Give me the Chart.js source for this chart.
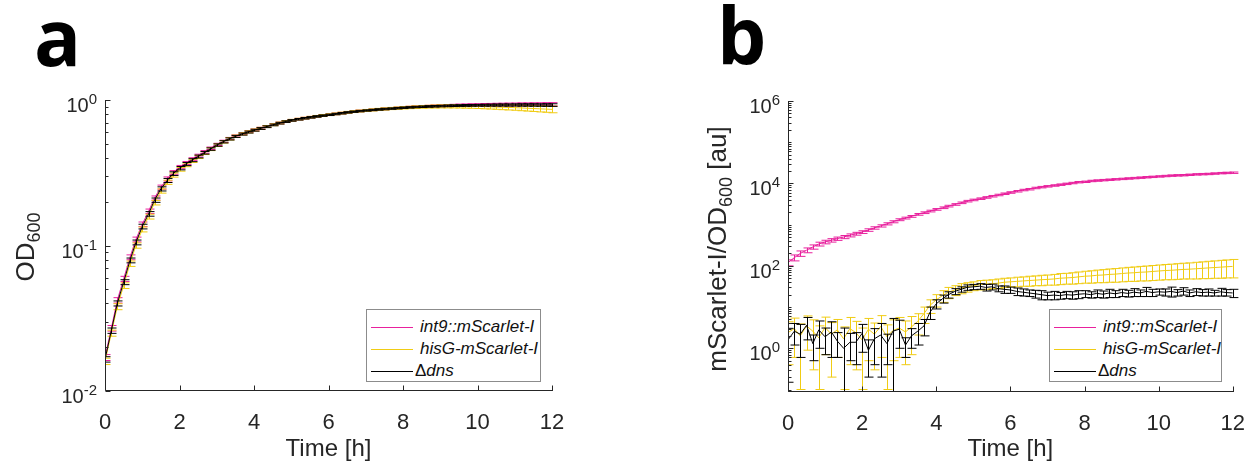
<!DOCTYPE html>
<html>
<head>
<meta charset="utf-8">
<script src="https://cdn.jsdelivr.net/npm/chart.js@4.4.1/dist/chart.umd.min.js"></script>
<style>
  html, body { margin: 0; padding: 0; background: #fff; }
  #fig { position: relative; width: 1256px; height: 463px; overflow: hidden; }
  .panel { position: absolute; top: 0; width: 628px; height: 463px; }
  .letter { position: absolute; font: bold 78px "Open Sans", sans-serif; line-height: 78px; color: #000; }
  .legend { position: absolute; top: 309px; height: 73px; background: #fff; border: 1px solid #8c8c8c; box-sizing: border-box; }
  .row { position: absolute; left: 0; right: 0; height: 20px; line-height: 20px;
         font: italic 17px "Liberation Sans", Arial, sans-serif; color: #111; }
  .row .ln { position: absolute; left: 4px; top: 10px; width: 42px; height: 0; border-top-width: 1px; border-top-style: solid; }
  .row .tx { position: absolute; left: 53px; white-space: nowrap; }
  .row .tx.d { left: 48px; }
  .up { font-style: normal; }
</style>
</head>
<body>
<div id="fig">
  <div class="panel" style="left:0"><canvas id="chartA"></canvas></div>
  <div class="panel" style="left:628px"><canvas id="chartB"></canvas></div>
  <div class="letter" style="left:34px; top:-3px">a</div>
  <div class="letter" style="left:717px; top:-5px">b</div>
  <div class="legend" style="left:366px; width:175px" id="legA"></div>
  <div class="legend" style="left:1049px; width:173px" id="legB"></div>
</div>
<script>
const FONT = '"Liberation Sans", Arial, Helvetica, sans-serif';
const INK = '#262626';

// sampling times [h], every 10 min
const time = [0, 0.17, 0.33, 0.5, 0.67, 0.83, 1, 1.17, 1.33, 1.5, 1.67, 1.83,
  2, 2.17, 2.33, 2.5, 2.67, 2.83, 3, 3.17, 3.33, 3.5, 3.67, 3.83,
  4, 4.17, 4.33, 4.5, 4.67, 4.83, 5, 5.17, 5.33, 5.5, 5.67, 5.83,
  6, 6.17, 6.33, 6.5, 6.67, 6.83, 7, 7.17, 7.33, 7.5, 7.67, 7.83,
  8, 8.17, 8.33, 8.5, 8.67, 8.83, 9, 9.17, 9.33, 9.5, 9.67, 9.83,
  10, 10.17, 10.33, 10.5, 10.67, 10.83, 11, 11.17, 11.33, 11.5, 11.67, 11.83, 12];

const seriesNames = ['int9::mScarlet-I', 'hisG-mScarlet-I', 'dns'];
const seriesColors = ['#e8219d', '#f0cc14', '#000000'];

// panel a: OD600
const odInt9 = [0.0170, 0.027, 0.042, 0.059, 0.083, 0.110, 0.140, 0.172, 0.212, 0.252, 0.287, 0.318,
  0.346, 0.369, 0.392, 0.415, 0.440, 0.466, 0.495, 0.520, 0.544, 0.566, 0.587, 0.606,
  0.623, 0.640, 0.658, 0.677, 0.695, 0.712, 0.726, 0.739, 0.751, 0.762, 0.773, 0.783,
  0.793, 0.803, 0.813, 0.823, 0.832, 0.841, 0.849, 0.856, 0.863, 0.869, 0.875, 0.881,
  0.887, 0.892, 0.897, 0.901, 0.905, 0.909, 0.912, 0.915, 0.918, 0.920, 0.922, 0.924,
  0.925, 0.927, 0.928, 0.929, 0.930, 0.931, 0.932, 0.933, 0.933, 0.934, 0.934, 0.935, 0.935];
const odHisG = [0.0160, 0.025, 0.038, 0.053, 0.075, 0.100, 0.129, 0.158, 0.197, 0.237, 0.272, 0.305,
  0.334, 0.358, 0.382, 0.406, 0.432, 0.459, 0.489, 0.516, 0.541, 0.564, 0.585, 0.604,
  0.622, 0.639, 0.657, 0.676, 0.695, 0.712, 0.726, 0.739, 0.751, 0.762, 0.773, 0.783,
  0.793, 0.803, 0.813, 0.823, 0.832, 0.840, 0.848, 0.855, 0.862, 0.868, 0.874, 0.879,
  0.884, 0.889, 0.893, 0.897, 0.900, 0.902, 0.904, 0.905, 0.906, 0.906, 0.905, 0.904,
  0.902, 0.900, 0.898, 0.895, 0.892, 0.889, 0.886, 0.882, 0.878, 0.874, 0.870, 0.866, 0.862];
const odDns = [0.0165, 0.026, 0.040, 0.056, 0.079, 0.105, 0.135, 0.165, 0.205, 0.245, 0.280, 0.312,
  0.340, 0.363, 0.386, 0.409, 0.434, 0.460, 0.490, 0.516, 0.540, 0.562, 0.583, 0.602,
  0.620, 0.637, 0.655, 0.674, 0.693, 0.710, 0.724, 0.737, 0.749, 0.760, 0.771, 0.781,
  0.791, 0.801, 0.811, 0.822, 0.831, 0.839, 0.847, 0.854, 0.861, 0.867, 0.873, 0.879,
  0.885, 0.890, 0.895, 0.899, 0.903, 0.906, 0.909, 0.912, 0.914, 0.916, 0.918, 0.919,
  0.920, 0.921, 0.922, 0.923, 0.924, 0.924, 0.925, 0.925, 0.925, 0.925, 0.924, 0.924, 0.923];
const odInt9Sd = [0.0008, 0.0012, 0.0018, 0.0024, 0.0032, 0.0042, 0.005, 0.006, 0.007, 0.008, 0.009, 0.009,
  0.009, 0.009, 0.009, 0.009, 0.009, 0.009, 0.009, 0.009, 0.009, 0.009, 0.009, 0.009,
  0.009, 0.009, 0.009, 0.009, 0.009, 0.009, 0.009, 0.009, 0.009, 0.009, 0.009, 0.010,
  0.010, 0.010, 0.010, 0.010, 0.010, 0.011, 0.011, 0.011, 0.011, 0.012, 0.012, 0.012,
  0.013, 0.013, 0.013, 0.014, 0.014, 0.015, 0.015, 0.016, 0.016, 0.017, 0.017, 0.018,
  0.018, 0.019, 0.019, 0.020, 0.020, 0.021, 0.021, 0.022, 0.022, 0.023, 0.023, 0.024, 0.024];
const odHisGSd = [0.0008, 0.0012, 0.0018, 0.0024, 0.0032, 0.0042, 0.005, 0.006, 0.007, 0.008, 0.009, 0.010,
  0.010, 0.010, 0.010, 0.010, 0.010, 0.010, 0.010, 0.010, 0.010, 0.010, 0.010, 0.010,
  0.010, 0.010, 0.010, 0.010, 0.010, 0.010, 0.010, 0.010, 0.010, 0.010, 0.010, 0.011,
  0.011, 0.011, 0.012, 0.012, 0.012, 0.013, 0.013, 0.014, 0.014, 0.015, 0.015, 0.016,
  0.016, 0.017, 0.018, 0.019, 0.020, 0.021, 0.022, 0.023, 0.024, 0.025, 0.026, 0.027,
  0.028, 0.030, 0.031, 0.032, 0.034, 0.035, 0.036, 0.038, 0.039, 0.040, 0.042, 0.043, 0.045];
const odDnsSd = [0.0007, 0.0011, 0.0016, 0.0022, 0.003, 0.004, 0.005, 0.006, 0.007, 0.008, 0.009, 0.009,
  0.009, 0.009, 0.009, 0.009, 0.009, 0.009, 0.009, 0.009, 0.009, 0.009, 0.009, 0.009,
  0.009, 0.009, 0.009, 0.009, 0.009, 0.009, 0.009, 0.009, 0.009, 0.009, 0.009, 0.009,
  0.009, 0.009, 0.009, 0.009, 0.009, 0.009, 0.009, 0.009, 0.010, 0.010, 0.010, 0.010,
  0.010, 0.010, 0.010, 0.011, 0.011, 0.011, 0.011, 0.012, 0.012, 0.012, 0.013, 0.013,
  0.013, 0.014, 0.014, 0.015, 0.015, 0.016, 0.016, 0.017, 0.017, 0.018, 0.018, 0.019, 0.019];

// panel b: mScarlet-I / OD600 [au]
const flInt9 = [120, 158, 200, 240, 288, 339, 380, 417, 457, 501, 550, 603,
  661, 741, 832, 933, 1047, 1175, 1318, 1445, 1585, 1778, 1950, 2138,
  2344, 2570, 2818, 3090, 3388, 3715, 3981, 4266, 4571, 4898, 5248, 5623,
  6026, 6457, 6918, 7244, 7762, 8128, 8511, 8913, 9333, 9772, 10233, 10715,
  10965, 11482, 11749, 12023, 12303, 12589, 12882, 13183, 13490, 13804, 14125, 14454,
  14791, 15136, 15488, 15700, 15849, 16218, 16596, 16800, 16982, 17378, 17783, 18000, 18197];
const flHisG = [2.4, 3.0, 2.0, 3.5, 2.6, 1.8, 3.2, 2.2, 2.8, 1.7, 3.0, 2.4,
  1.6, 2.9, 2.2, 3.4, 1.9, 2.7, 3.1, 2.5, 3.3, 4.5, 7, 11,
  15, 19, 23, 26, 29, 31, 33, 35, 36, 37, 38, 40,
  41, 42, 43, 44, 45, 46, 47, 48, 50, 51, 52, 54,
  56, 57, 59, 60, 62, 63, 65, 67, 68, 70, 71, 73,
  75, 77, 78, 80, 82, 83, 85, 87, 89, 91, 93, 95, 97];
const flDns = [1.6, 2.6, 2.2, 3.6, 1.3, 2.8, 1.9, 2.5, 1.5, 1.0, 1.4, 1.4,
  2.3, 0.9, 1.7, 2.1, 1.3, 2.6, 2.9, 1.2, 2.0, 2.6, 3.5, 7.5,
  12, 16, 20, 24, 27, 30, 31, 32, 30, 31, 28, 27,
  26, 24, 23, 22, 21, 20, 19, 19.5, 19, 20, 19.5, 20.5,
  21, 20, 21.5, 20.5, 22, 21, 22.5, 21.5, 23, 22, 24, 22.5,
  23.5, 23, 24, 22.5, 24.5, 22, 23.5, 22.5, 23, 22, 23.5, 22.5, 22];
const flInt9Sd = [20, 26, 30, 32, 34, 36, 38, 40, 42, 44, 46, 48,
  50, 52, 55, 58, 62, 66, 70, 74, 78, 86, 94, 102,
  110, 120, 130, 140, 150, 165, 175, 185, 200, 210, 225, 240,
  255, 270, 290, 300, 320, 335, 350, 365, 380, 395, 410, 430,
  440, 460, 470, 480, 490, 500, 510, 520, 530, 545, 555, 570,
  580, 595, 605, 615, 620, 635, 650, 655, 665, 680, 695, 705, 710];
const flHisGSd = [2.0, 2.4, 1.9, 2.6, 2.3, 1.7, 2.5, 2.0, 2.2, 1.6, 2.6, 2.1,
  1.5, 2.4, 1.9, 2.8, 1.8, 2.2, 2.5, 2.1, 2.6, 2.4, 3.0, 4.0,
  5, 6, 7, 7, 8, 8, 8, 9, 9, 9, 10, 10,
  10, 11, 11, 12, 12, 13, 13, 14, 15, 15, 16, 17,
  18, 19, 20, 21, 22, 23, 24, 25, 26, 27, 28, 29,
  30, 31, 32, 33, 34, 35, 37, 38, 40, 41, 43, 44, 46];
const flDnsSd = [1.45, 1.4, 1.6, 2.0, 0.8, 1.8, 1.2, 1.9, 0.9, 2.1, 0.9, 1.0,
  1.5, 0.7, 1.3, 1.9, 0.9, 2.7, 1.9, 0.6, 1.0, 1.4, 1.5, 2.5,
  3.0, 3.5, 3.5, 4.0, 4.0, 4.5, 4.5, 5.0, 5.5, 5.0, 4.5, 5.5,
  4.5, 5.0, 4.5, 4.0, 4.5, 5.0, 4.0, 4.5, 3.5, 4.0, 4.0, 4.5,
  4.0, 3.5, 4.5, 4.0, 5.0, 4.0, 4.5, 4.0, 5.0, 4.0, 6.0, 4.5,
  4.0, 4.5, 6.5, 4.0, 5.0, 4.0, 4.5, 4.0, 4.5, 3.5, 5.0, 4.0, 5.0];

// axis ticks
const xTickValues = [0, 2, 4, 6, 8, 10, 12];
const odTickValues = [0.01, 0.1, 1];
const odTickExp = ['-2', '-1', '0'];
const flTickValues = [1, 100, 10000, 1000000];
const flTickExp = ['0', '2', '4', '6'];

function points(vals) {
  return vals.map((v, i) => ({ x: time[i], y: v }));
}

function makeSet(k, vals, sd) {
  return {
    label: seriesNames[k], data: points(vals), sd: sd,
    borderColor: seriesColors[k], backgroundColor: seriesColors[k],
    borderWidth: 1, pointRadius: 0, tension: 0, order: 3 - k
  };
}

// vertical error bars with caps, drawn right after each line
const errorBars = {
  id: 'errorBars',
  afterDatasetDraw(chart, args) {
    const ds = chart.data.datasets[args.index];
    if (!ds.sd) return;
    const xs = chart.scales.x, ys = chart.scales.y, a = chart.chartArea, ctx = chart.ctx;
    const cap = 4;
    ctx.save();
    ctx.beginPath();
    ctx.rect(a.left, a.top - 2, a.right - a.left + 6, a.bottom - a.top + 2);
    ctx.clip();
    ctx.strokeStyle = ds.borderColor;
    ctx.lineWidth = 1;
    ctx.beginPath();
    ds.data.forEach((p, i) => {
      const px = Math.round(xs.getPixelForValue(p.x)) + 0.5;
      const hi = ys.getPixelForValue(p.y + ds.sd[i]);
      const loV = p.y - ds.sd[i];
      const lo = loV > 0 ? ys.getPixelForValue(loV) : a.bottom + 20;
      ctx.moveTo(px, hi); ctx.lineTo(px, lo);
      ctx.moveTo(px - cap, hi); ctx.lineTo(px + cap + 1, hi);
      if (loV > 0) { ctx.moveTo(px - cap, lo); ctx.lineTo(px + cap + 1, lo); }
    });
    ctx.stroke();
    ctx.restore();
  }
};

// MATLAB-like axes: left/bottom lines, inward ticks, 10^n labels, y title
function axesPlugin(cfg) {
  return {
    id: 'matlabAxes',
    afterDraw(chart) {
      const ctx = chart.ctx, a = chart.chartArea, xs = chart.scales.x, ys = chart.scales.y;
      const L = Math.round(a.left) + 0.5, B = Math.round(a.bottom) - 0.5;
      ctx.save();
      ctx.strokeStyle = INK;
      ctx.lineWidth = 1;
      ctx.beginPath();
      ctx.moveTo(L, Math.round(a.top)); ctx.lineTo(L, B);
      ctx.lineTo(Math.round(a.right) + 1, B);
      xTickValues.forEach(v => {
        const px = Math.round(xs.getPixelForValue(v)) + 0.5;
        ctx.moveTo(px, B); ctx.lineTo(px, B - 5);
      });
      const lo = Math.floor(Math.log10(cfg.min)), hi = Math.ceil(Math.log10(cfg.max));
      for (let e = lo; e <= hi; e++) {
        for (let m = 1; m <= 9; m++) {
          const v = m * Math.pow(10, e);
          if (v < cfg.min * 0.999 || v > cfg.max * 1.001) continue;
          const major = cfg.ticks.some(t => Math.abs(t - v) / v < 1e-6);
          const py = Math.round(ys.getPixelForValue(v)) + 0.5;
          ctx.moveTo(L, py); ctx.lineTo(L + (major ? 5 : 3), py);
        }
      }
      ctx.stroke();

      ctx.fillStyle = INK;
      ctx.textBaseline = 'alphabetic';
      ctx.textAlign = 'left';
      cfg.ticks.forEach((v, i) => {
        const py = ys.getPixelForValue(v);
        ctx.font = '20px ' + FONT;
        const wb = ctx.measureText('10').width;
        ctx.font = '15px ' + FONT;
        const we = ctx.measureText(cfg.exp[i]).width;
        const right = a.left - 8;
        ctx.font = '20px ' + FONT;
        ctx.fillText('10', right - we - wb, py + 12);
        ctx.font = '15px ' + FONT;
        ctx.fillText(cfg.exp[i], right - we, py + 4);
      });

      ctx.translate(cfg.titleX, cfg.titleY);
      ctx.rotate(-Math.PI / 2);
      let total = 0;
      cfg.title.forEach(p => { ctx.font = p[1] + 'px ' + FONT; p.w = ctx.measureText(p[0]).width; total += p.w; });
      let x = -total / 2;
      cfg.title.forEach(p => { ctx.font = p[1] + 'px ' + FONT; ctx.fillText(p[0], x, p[2]); x += p.w; });
      ctx.restore();
    }
  };
}

function makeChart(id, datasets, o) {
  return new Chart(document.getElementById(id), {
    type: 'line',
    data: { datasets: datasets },
    options: {
      animation: false,
      responsive: true,
      maintainAspectRatio: false,
      layout: { padding: o.padding },
      plugins: { legend: { display: false }, tooltip: { enabled: false } },
      scales: {
        x: {
          type: 'linear', min: 0, max: 12,
          grid: { display: false }, border: { display: false },
          afterBuildTicks: s => { s.ticks = xTickValues.map(v => ({ value: v })); },
          afterFit: s => { s.height = o.xHeight; },
          ticks: { color: INK, font: { family: FONT, size: 22 }, padding: 11, maxRotation: 0, autoSkip: false },
          title: { display: true, text: 'Time [h]', color: INK, font: { family: FONT, size: 24 }, padding: { top: 0, bottom: -1 } }
        },
        y: {
          type: 'logarithmic', min: o.axes.min, max: o.axes.max,
          grid: { display: false }, border: { display: false },
          ticks: { display: false },
          afterFit: s => { s.width = o.yWidth; }
        }
      }
    },
    plugins: [errorBars, axesPlugin(o.axes)]
  });
}

makeChart('chartA', [
  makeSet(0, odInt9, odInt9Sd), makeSet(1, odHisG, odHisGSd), makeSet(2, odDns, odDnsSd)
], {
  padding: { left: 0, top: 100, right: 76, bottom: 0 }, xHeight: 72, yWidth: 105,
  axes: { min: 0.01, max: 1, ticks: odTickValues, exp: odTickExp, titleX: 25, titleY: 247,
          title: [['OD', 26, 9], ['600', 18, 15]] }
});

makeChart('chartB', [
  makeSet(0, flInt9, flInt9Sd), makeSet(1, flHisG, flHisGSd), makeSet(2, flDns, flDnsSd)
], {
  padding: { left: 0, top: 101, right: 20, bottom: 0 }, xHeight: 71, yWidth: 160,
  axes: { min: 0.087, max: 1000000, ticks: flTickValues, exp: flTickExp, titleX: 89, titleY: 249,
          title: [['mScarlet-I/OD', 26, 9], ['600', 18, 15], [' [au]', 26, 9]] }
});

function buildLegend(id) {
  const box = document.getElementById(id);
  const tops = [7, 29, 51];
  seriesNames.forEach((name, k) => {
    const row = document.createElement('div');
    row.className = 'row';
    row.style.top = tops[k] + 'px';
    const line = document.createElement('div');
    line.className = 'ln';
    line.style.borderTopColor = seriesColors[k];
    row.appendChild(line);
    const txt = document.createElement('div');
    txt.className = 'tx';
    if (k === 2) {
      txt.className = 'tx d';
      txt.innerHTML = '<span class="up">\u0394</span>' + name;
    } else {
      txt.textContent = name;
    }
    row.appendChild(txt);
    box.appendChild(row);
  });
}
buildLegend('legA');
buildLegend('legB');
</script>
</body>
</html>
